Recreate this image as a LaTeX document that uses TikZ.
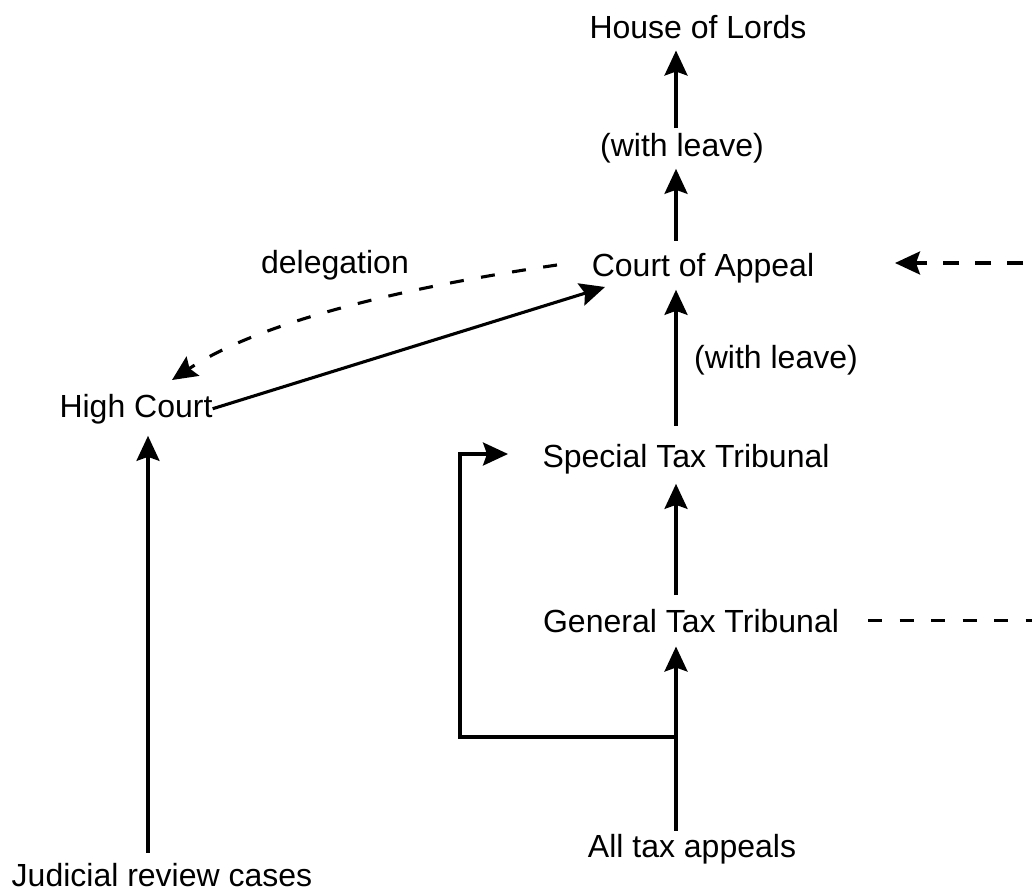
\documentclass[tikz,border=0pt]{standalone}
\usepackage{fontspec}
\setmainfont{Liberation Sans}
\usetikzlibrary{arrows.meta}
\begin{document}
\begin{tikzpicture}[x=1pt,y=-1pt,
  lbl/.style={inner sep=0pt,anchor=base,font=\fontsize{32}{38}\selectfont},
  line/.style={line width=3.1pt},
  conn/.style={line,-{Stealth[length=25pt,width=23pt,inset=4pt]}},
  dsh/.style={dash pattern=on 14pt off 17.5pt}]
\useasboundingbox (0,0) rectangle (1032,895);
\node[lbl] (hol) at (698,38) {House of Lords};
\node[lbl] (wl1) at (682,156) {(with leave)};
\node[lbl] (coa) at (703,276) {Court of Appeal};
\node[lbl] (wl2) at (776,368) {(with leave)};
\node[lbl] (stt) at (686,467) {Special Tax Tribunal};
\node[lbl] (gtt) at (691,632) {General Tax Tribunal};
\node[lbl] (ata) at (692,857) {All tax appeals};
\node[lbl] (hc) at (136,417) {High Court};
\node[lbl] (jrc) at (162,886) {Judicial review cases};
\node[lbl] (del) at (335,273) {delegation};
\coordinate (ax) at (676,0);
\coordinate (jx) at (148,0);
\coordinate (r1) at (1032,263);
\coordinate (ce) at (895,263);
\coordinate (cw) at (460,737);
\coordinate (lt) at (508,454);
\coordinate (d1) at (557,265);
\coordinate (d2) at (172,380);
\coordinate (ct) at (605,287);
% vertical chain
\draw[conn,shorten <=4.5pt,shorten >=12pt] (wl1.north -| ax) -- (hol.south -| ax);
\draw[conn,shorten <=12pt,shorten >=6pt] (coa.north -| ax) -- (wl1.south -| ax);
\draw[conn,shorten <=18pt,shorten >=7pt] (stt.north -| ax) -- (coa.south -| ax);
\draw[conn,shorten <=13.5pt,shorten >=10pt] (gtt.north -| ax) -- (stt.south -| ax);
\draw[conn,shorten <=3pt,shorten >=14pt] (ata.north -| ax) -- (gtt.south -| ax);
% loop
\draw[conn] (ax |- cw) -- (cw) |- (lt);
% judicial review
\draw[conn,shorten <=10pt,shorten >=12pt] (jrc.north -| jx) -- (hc.south -| jx);
% high court to court of appeal
\draw[conn] (hc.east) -- (ct);
% delegation
\draw[conn,dsh] (d1) .. controls (440,282) and (270,315) .. (d2);
% dashed right
\draw[conn,dash pattern=on 16pt off 16pt,dash phase=23pt] (r1) -- (ce);
\draw[line,dsh] ([xshift=29pt]gtt.east) -- (gtt.east -| r1);
\end{tikzpicture}
\end{document}
